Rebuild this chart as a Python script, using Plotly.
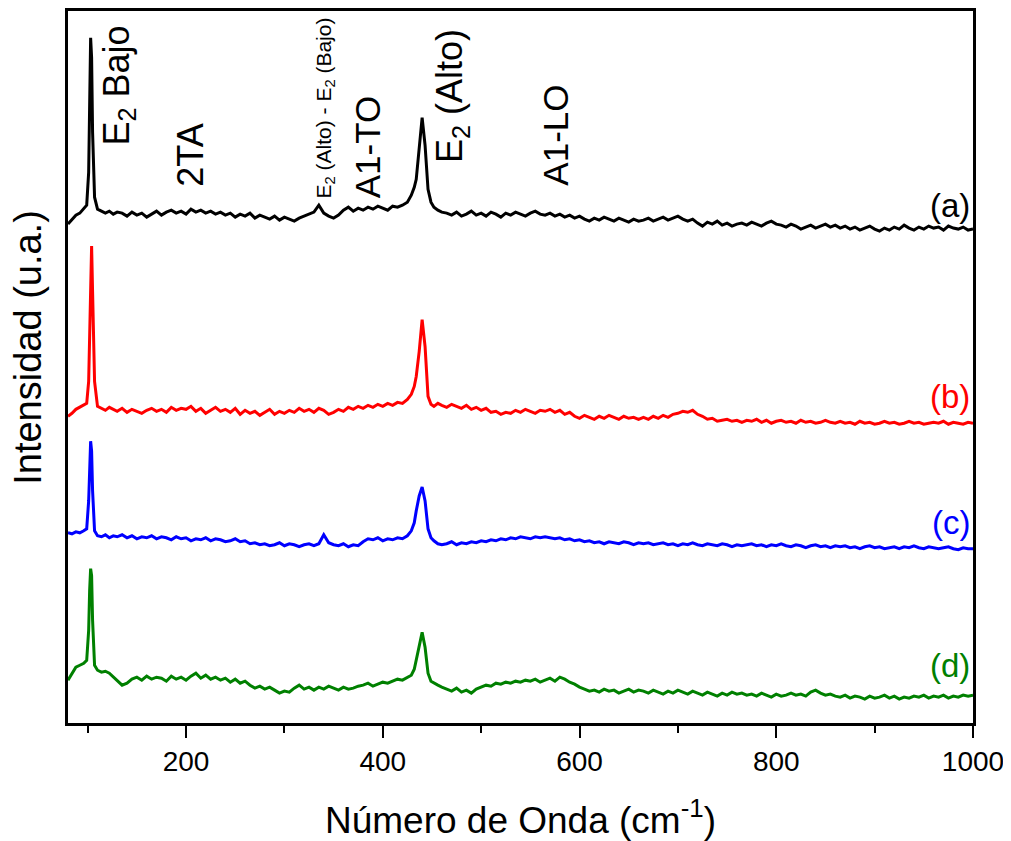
import plotly.graph_objects as go

# Raman shift grid (cm-1)
wavenumber = [
    80, 84, 88, 92, 96, 99, 101, 102, 103, 104, 105, 107, 110, 114, 118, 122, 126, 130,
    135, 140, 145, 150, 155, 160, 165, 170, 175, 180, 185, 190, 195, 200, 205, 210, 215, 220, 225, 230,
    235, 240, 245, 250, 255, 260, 265, 270, 275, 280, 285, 290, 295, 300, 305, 310, 315, 320, 325, 330,
    335, 340, 345, 350, 355, 360, 365, 370, 375, 380, 385, 390, 395, 400, 405, 410, 415, 420, 425,
    429, 432, 434, 437, 440, 443, 446, 449, 452, 456, 460,
    465, 470, 475, 480, 485, 490, 495, 500, 505, 510, 515, 520, 525, 530, 535, 540, 545, 550, 555, 560,
    565, 570, 575, 580, 585, 590, 595, 600, 605, 610, 615, 620, 625, 630, 635, 640, 645, 650, 655, 660,
    665, 670, 675, 680, 685, 690, 695, 700, 705, 710, 715, 720, 725, 730, 735, 740, 745, 750, 755, 760,
    765, 770, 775, 780, 785, 790, 795, 800, 805, 810, 815, 820, 825, 830, 835, 840, 845, 850, 855, 860,
    865, 870, 875, 880, 885, 890, 895, 900, 905, 910, 915, 920, 925, 930, 935, 940, 945, 950, 955, 960,
    965, 970, 975, 980, 985, 990, 995, 1000,
]

spectrum_a = [
    -9, -4, 0, 2, 7, 10, 43, 113, 178, 158, 83, 18, 6, 4, 2, 4, 1, 3,
    2, -1, 3, 0, 2, -2, 1, 4, 0, 3, 5, 2, 4, 1, 6, 3, 5, 2, 4, 1,
    3, 0, 2, -2, 1, -1, 2, -3, 0, -2, -4, -1, -5, -2, -4, -6, -3, -1, 1, 3,
    10, 2, -1, -3, 0, 5, 8, 4, 7, 5, 8, 6, 9, 7, 5, 9, 8, 10, 13,
    20, 28, 36, 70, 98, 70, 26, 13, 8, 5, 3,
    2, 0, 3, -1, 1, 4, 0, 2, -1, 3, 1, -2, 2, 0, 3, 1, -1, 2, 4, 1,
    0, 2, -1, 1, -2, 0, -3, -1, -4, -6, -3, -5, -2, -4, -6, -3, -5, -7, -4, -6,
    -5, -3, -6, -4, -2, -5, -3, -1, -4, -6, -4, -8, -11, -7, -9, -6, -10, -8, -11, -9,
    -8, -10, -7, -9, -11, -8, -6, -9, -10, -12, -9, -11, -14, -12, -10, -13, -11, -9, -12, -10,
    -13, -11, -14, -12, -15, -13, -11, -14, -16, -13, -15, -12, -14, -10, -13, -15, -12, -14, -11, -13,
    -12, -15, -11, -13, -14, -12, -15, -14,
]

spectrum_b = [
    -5, -2, 2, 4, 6, 8, 30, 90, 150, 166, 120, 30, 5, 3, 1, 4, 2, 0,
    3, -1, 2, 0, -2, 1, 3, 0, 2, -1, 4, 1, 3, 2, 5, 0, 3, -2, 1, 4,
    0, 2, -1, 3, -3, 1, -2, 0, -4, -1, 2, -3, 0, -2, 1, -1, 3, 0, 2, -1,
    3, 1, -3, -1, 2, 0, 4, 2, 5, 3, 6, 4, 7, 5, 8, 6, 9, 8, 12,
    17, 25, 35, 60, 92, 65, 15, 7, 5, 8, 6,
    4, 7, 5, 3, 6, 2, 4, 1, 3, -1, 0, -3, -1, -2, 1, -1, 2, 0, -2, 1,
    0, 2, -1, 1, -3, -1, -5, -7, -4, -6, -8, -5, -7, -4, -6, -8, -5, -7, -6, -8,
    -6, -8, -5, -7, -4, -6, -3, -2, 0, -1, 1, -3, -5, -8, -7, -10, -9, -8, -10, -9,
    -11, -9, -10, -8, -11, -9, -12, -10, -9, -11, -10, -12, -9, -11, -10, -12, -11, -9, -11, -12,
    -10, -12, -11, -13, -10, -12, -11, -13, -12, -10, -12, -11, -13, -12, -10, -12, -11, -13, -12, -11,
    -12, -10, -13, -11, -12, -13, -11, -12,
]

spectrum_c = [
    8, 7, 9, 8, 10, 12, 40, 80, 100, 90, 50, 10, 5, 4, 6, 3, 5, 4,
    6, 3, 5, 2, 4, 3, 5, 2, 4, 3, 1, 4, 2, 3, 0, 2, 1, 3, 0, 2,
    1, -1, 0, 2, -1, 0, -3, -2, -4, -3, -5, -4, -2, -5, -3, -4, -6, -4, -3, -5,
    -3, 6, -2, -4, -5, -3, -6, -4, -5, -1, 2, 1, 3, 0, 2, 1, 3, 2, 5,
    10, 18, 30, 45, 54, 40, 12, 3, 0, -3, -4,
    -3, -1, -4, -2, -3, -1, -2, 0, -1, 1, 0, 2, 1, 3, 2, 4, 3, 2, 4, 3,
    4, 3, 2, 3, 1, 2, 0, 1, -1, 0, -2, -1, -3, -1, -2, -3, -1, -2, -4, -2,
    -3, -2, -4, -3, -2, -4, -3, -5, -3, -4, -2, -4, -5, -3, -4, -5, -3, -4, -6, -4,
    -5, -4, -3, -5, -4, -6, -4, -5, -3, -5, -6, -4, -5, -7, -5, -4, -6, -5, -7, -5,
    -6, -5, -7, -6, -8, -6, -5, -7, -6, -8, -7, -6, -8, -6, -7, -5, -7, -8, -6, -7,
    -8, -7, -6, -8, -9, -7, -8, -8,
]

spectrum_d = [
    5, 12, 18, 20, 22, 25, 55, 95, 117, 110, 65, 20, 15, 13, 14, 12, 8, 4,
    0, 2, 6, 8, 5, 9, 6, 8, 7, 4, 9, 6, 8, 5, 9, 12, 7, 10, 6, 8,
    5, 7, 3, 6, 2, 4, 0, -3, -1, -4, -2, -5, -8, -6, -7, -3, 0, -4, -2, -5,
    -2, -4, -1, -3, -5, -2, -4, -3, -1, 0, 2, -1, 1, 3, 2, 4, 6, 5, 8,
    10, 16, 25, 40, 53, 38, 12, 4, 2, 0, -2,
    -4, -6, -3, -7, -5, -8, -4, -2, 0, -1, 2, 1, 3, 2, 4, 3, 5, 4, 6, 3,
    5, 7, 4, 8, 6, 3, 1, -2, -4, -6, -5, -7, -4, -6, -5, -8, -6, -4, -7, -5,
    -6, -8, -5, -7, -9, -6, -8, -5, -7, -9, -6, -8, -10, -7, -9, -11, -8, -10, -7, -9,
    -8, -10, -9, -11, -8, -10, -12, -9, -11, -10, -8, -10, -9, -11, -7, -5, -8, -10, -9, -11,
    -12, -10, -13, -11, -12, -14, -11, -13, -12, -10, -13, -11, -14, -12, -13, -11, -12, -10, -13, -11,
    -12, -10, -13, -11, -12, -10, -11, -10,
]

series_names = ["(a)", "(b)", "(c)", "(d)"]
series_colors = ["#000000", "#ff0000", "#0000ff", "#008000"]
series_offsets = [510, 313, 183, 38]
series_data = [spectrum_a, spectrum_b, spectrum_c, spectrum_d]
series_label_y = [520, 328, 201, 58]

peak_labels = ["E<sub>2</sub> Bajo", "2TA", "E<sub>2</sub> (Alto) - E<sub>2</sub> (Bajo)",
               "A1-TO", "E<sub>2</sub> (Alto)", "A1-LO"]
peak_label_x = [132, 205, 341, 384, 471, 576]
peak_label_y = [578, 537, 525, 525, 560, 538]
peak_label_size = [36, 36, 21, 35, 36, 35]

FONT = "Liberation Sans, Arial, Helvetica, sans-serif"

fig = go.Figure()
for name, color, off, vals in zip(series_names, series_colors, series_offsets, series_data):
    fig.add_trace(go.Scatter(
        x=wavenumber, y=[v + off for v in vals], mode="lines", name=name,
        line=dict(color=color, width=3), showlegend=False,
    ))

for name, color, ly in zip(series_names, series_colors, series_label_y):
    fig.add_annotation(x=999, y=ly, xref="x", yref="y", text=name, showarrow=False,
                       xanchor="right", yanchor="middle",
                       font=dict(family=FONT, size=33, color=color))

for txt, lx, ly, sz in zip(peak_labels, peak_label_x, peak_label_y, peak_label_size):
    fig.add_annotation(x=lx, y=ly, xref="x", yref="y", text=txt, showarrow=False,
                       textangle=-90, xanchor="center", yanchor="bottom",
                       font=dict(family=FONT, size=sz, color="black"))

fig.add_annotation(x=0, y=0.527, xref="paper", yref="paper", text="Intensidad (u.a.)",
                   showarrow=False, textangle=-90, xanchor="center", yanchor="middle",
                   xshift=-40, font=dict(family=FONT, size=38, color="black"))

# page body adds an 8px margin; size and margins compensate for it
fig.update_layout(
    width=1003, height=833,
    margin=dict(l=60, r=38, t=0, b=118),
    paper_bgcolor="white", plot_bgcolor="white",
    font=dict(family=FONT, color="black"),
)
fig.update_xaxes(
    range=[80, 1000], showgrid=False, zeroline=False,
    showline=True, linecolor="black", linewidth=2.5, mirror=True,
    ticks="outside", ticklen=12, tickwidth=2, tickcolor="black",
    tickvals=[200, 400, 600, 800, 1000],
    tickfont=dict(family=FONT, size=28, color="black"),
    minor=dict(ticks="outside", ticklen=7, tickwidth=2, tickcolor="black", dtick=100, tick0=0),
    title=dict(text="Número de Onda (cm<sup>-1</sup>)", font=dict(family=FONT, size=37, color="black"),
               standoff=32),
)
fig.update_yaxes(
    range=[0, 715], showgrid=False, zeroline=False,
    showline=True, linecolor="black", linewidth=2.5, mirror=True,
    showticklabels=False, ticks="",
)

fig.write_html("out.html")
